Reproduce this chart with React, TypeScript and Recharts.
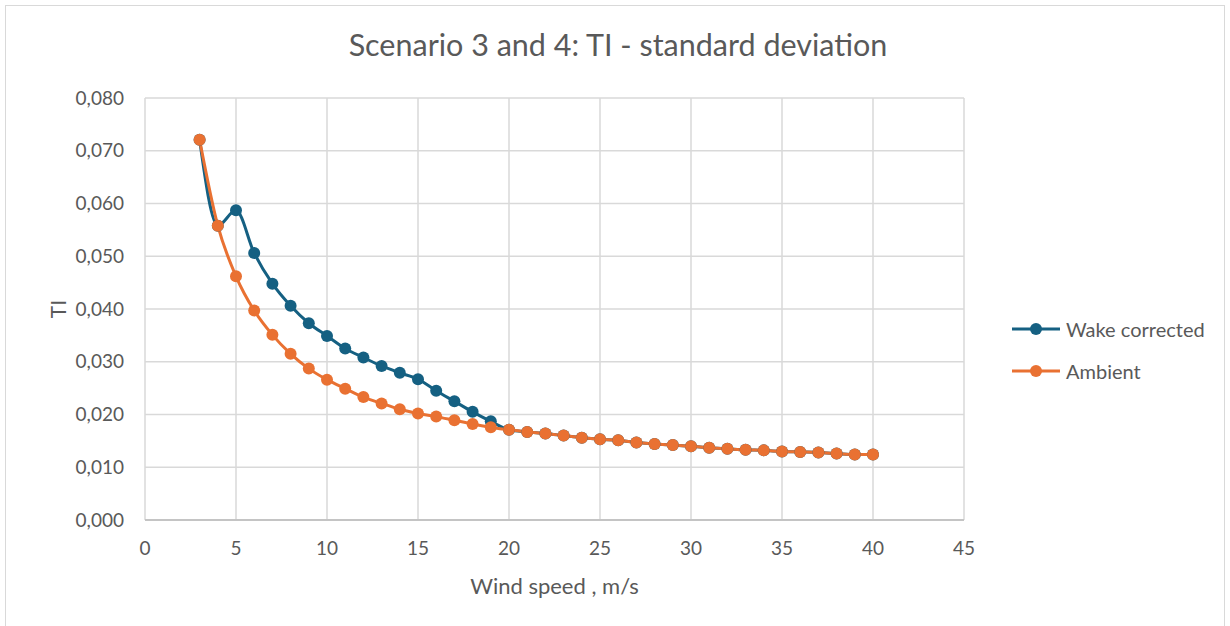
import React from 'react';
import { LineChart, Line, XAxis, YAxis, CartesianGrid, Legend } from 'recharts';

const windSpeed = [3, 4, 5, 6, 7, 8, 9, 10, 11, 12, 13, 14, 15, 16, 17, 18, 19, 20, 21, 22, 23, 24, 25, 26, 27, 28, 29, 30, 31, 32, 33, 34, 35, 36, 37, 38, 39, 40];

const wakeCorrected = [
  0.0721, 0.0558, 0.0587, 0.0506, 0.0448, 0.0406, 0.0373, 0.0349, 0.0325, 0.0308, 0.0292, 0.0279, 0.0267,
  0.0245, 0.0225, 0.0205, 0.0187, 0.0171, 0.0167, 0.0164, 0.016, 0.0156, 0.0153, 0.0151, 0.0147, 0.0144,
  0.0142, 0.014, 0.0137, 0.0135, 0.0133, 0.0132, 0.013, 0.0129, 0.0128, 0.0126, 0.0124, 0.0124,
];

const ambient = [
  0.0721, 0.0558, 0.0462, 0.0397, 0.0351, 0.0315, 0.0287, 0.0266, 0.0249, 0.0233, 0.0221, 0.021, 0.0202,
  0.0196, 0.0189, 0.0182, 0.0176, 0.0171, 0.0167, 0.0164, 0.016, 0.0156, 0.0153, 0.0151, 0.0147, 0.0144,
  0.0142, 0.014, 0.0137, 0.0135, 0.0133, 0.0132, 0.013, 0.0129, 0.0128, 0.0126, 0.0124, 0.0124,
];

const seriesNames = ['Wake corrected', 'Ambient'];
const xTicks = [0, 5, 10, 15, 20, 25, 30, 35, 40, 45];
const yTicks = [0, 0.01, 0.02, 0.03, 0.04, 0.05, 0.06, 0.07, 0.08];

const data = windSpeed.map((ws, i) => ({ ws, wake: wakeCorrected[i], ambient: ambient[i] }));

const FONT = 'Lato, "Open Sans", sans-serif';
const TEXT = '#595959';
const BLUE = '#156082';
const ORANGE = '#E97132';

const fmtY = (v: number) => v.toFixed(3).replace('.', ',');

const LegendContent = (props: any) => {
  const { payload } = props;
  if (!payload) return null;
  // keep the series order, not alphabetical
  const items = [...payload].sort((a: any, b: any) => seriesNames.indexOf(a.value) - seriesNames.indexOf(b.value));
  return (
    <div style={{ fontFamily: FONT, fontSize: 20, color: TEXT }}>
      {items.map((p: any) => (
        <div key={p.value} style={{ display: 'flex', alignItems: 'center', height: 42 }}>
          <svg width={52} height={14} style={{ marginRight: 4 }}>
            <line x1={2} y1={7} x2={50} y2={7} stroke={p.color} strokeWidth={3} />
            <circle cx={26} cy={7} r={6} fill={p.color} />
          </svg>
          <span>{p.value}</span>
        </div>
      ))}
    </div>
  );
};

const App: React.FC = () => {
  return (
    <div style={{ position: 'absolute', left: 0, top: 0, width: 1230, height: 626, background: '#fff', overflow: 'hidden' }}>
      <div
        style={{
          position: 'absolute',
          left: 5,
          top: 5,
          width: 1220,
          height: 660,
          border: '1px solid #d9d9d9',
          boxSizing: 'border-box',
        }}
      />
      <div
        style={{
          position: 'absolute',
          left: 0,
          top: 26,
          width: 1236,
          textAlign: 'center',
          fontFamily: FONT,
          fontSize: 30.5,
          color: TEXT,
        }}
      >
        Scenario 3 and 4: TI - standard deviation
      </div>
      <LineChart width={1230} height={626} data={data} margin={{ top: 98, right: 266, bottom: 26, left: 40 }}>
        <CartesianGrid stroke="#d9d9d9" strokeWidth={1.5} />
        <XAxis
          dataKey="ws"
          type="number"
          domain={[0, 45]}
          ticks={xTicks}
          height={80}
          tickLine={false}
          tickMargin={16}
          axisLine={{ stroke: '#c4c4c4', strokeWidth: 1.8 }}
          tick={{ fill: TEXT, fontSize: 19, fontFamily: FONT }}
          label={{
            content: (p: any) => (
              <text
                x={p.viewBox.x + p.viewBox.width / 2}
                y={p.viewBox.y + 65}
                textAnchor="middle"
                dominantBaseline="central"
                fill={TEXT}
                fontSize={22}
                fontFamily={FONT}
              >
                Wind speed , m/s
              </text>
            ),
          }}
        />
        <YAxis
          type="number"
          domain={[0, 0.08]}
          ticks={yTicks}
          width={105}
          tickLine={false}
          axisLine={false}
          tickMargin={15}
          tickFormatter={fmtY}
          tick={{ fill: TEXT, fontSize: 19, fontFamily: FONT }}
          label={{
            content: (p: any) => (
              <text
                x={p.viewBox.x + 17}
                y={p.viewBox.y + p.viewBox.height / 2}
                transform={`rotate(-90, ${p.viewBox.x + 17}, ${p.viewBox.y + p.viewBox.height / 2})`}
                textAnchor="middle"
                dominantBaseline="central"
                fill={TEXT}
                fontSize={21}
                fontFamily={FONT}
              >
                TI
              </text>
            ),
          }}
        />
        <Legend
          layout="horizontal"
          align="center"
          verticalAlign="middle"
          content={LegendContent}
          wrapperStyle={{ left: 1010, top: 308, width: 215 }}
        />
        <Line
          type="monotone"
          dataKey="wake"
          name="Wake corrected"
          stroke={BLUE}
          strokeWidth={3}
          dot={{ r: 6, fill: BLUE, stroke: BLUE, strokeWidth: 0 }}
          activeDot={false}
          isAnimationActive={false}
        />
        <Line
          type="monotone"
          dataKey="ambient"
          name="Ambient"
          stroke={ORANGE}
          strokeWidth={3}
          dot={{ r: 6, fill: ORANGE, stroke: ORANGE, strokeWidth: 0 }}
          activeDot={false}
          isAnimationActive={false}
        />
      </LineChart>
    </div>
  );
};

export default App;
